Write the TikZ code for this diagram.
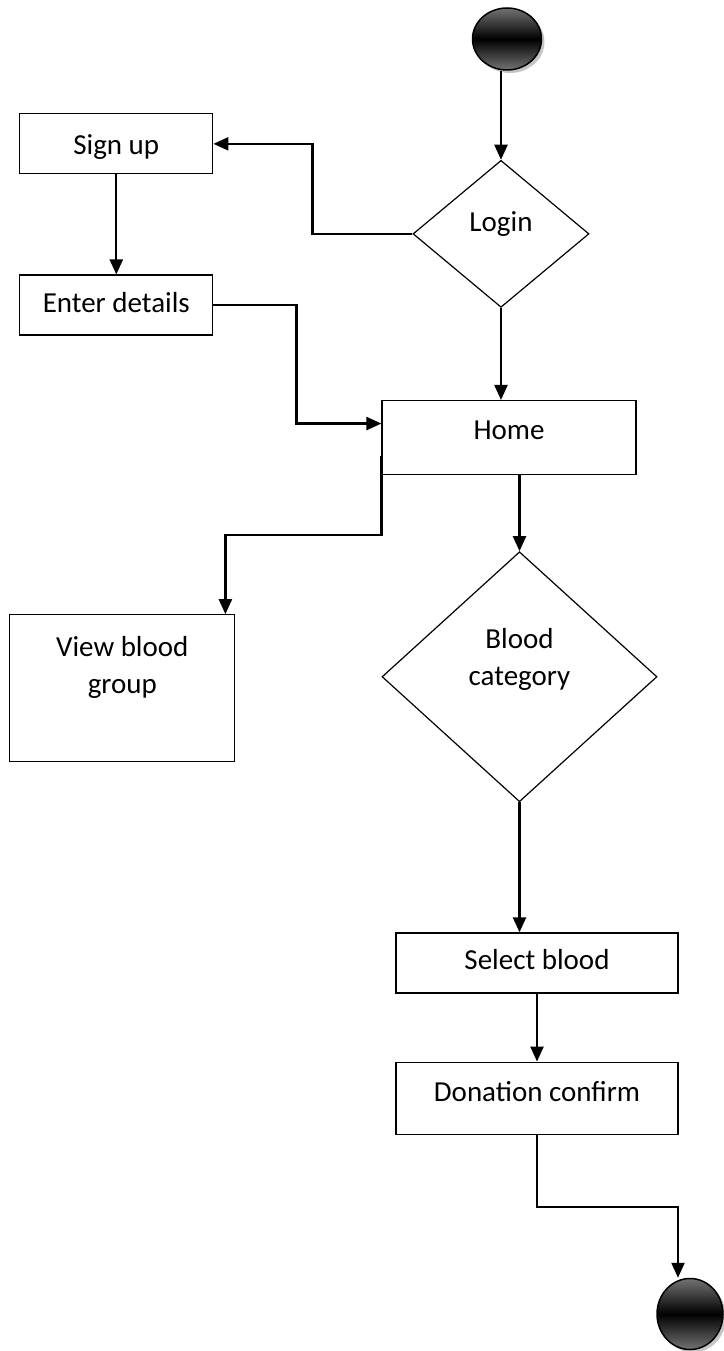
\documentclass[tikz,border=0pt]{standalone}
\usepackage{fontspec}
\setmainfont{Carlito}
\usepackage{tikz}
\usetikzlibrary{shapes.geometric, arrows.meta, positioning, shadows}

\begin{document}
\begin{tikzpicture}[x=1pt, y=-1pt,
    action/.style={rectangle, draw, line width=1.2pt, inner sep=0pt, text height=20pt, text depth=6pt, font=\fontsize{29}{37}\selectfont, align=center},
    decision/.style={diamond, draw, line width=1.2pt, inner sep=0pt, text height=20pt, font=\fontsize{29}{37}\selectfont, align=center},
    terminal/.style={ellipse, draw, line width=1.5pt, inner sep=0pt, top color=black!55, bottom color=black!55, middle color=black, drop shadow={shadow xshift=3pt, shadow yshift=-3pt, opacity=0.45}},
    flow/.style={-{Triangle[length=15pt, width=13pt]}, line width=2.3pt}]

    \useasboundingbox (0,0) rectangle (723,1351);

    \node (start) [terminal, minimum width=69pt, minimum height=62pt] at (507,39) {};
    \node (login) [decision, minimum width=176pt, minimum height=147pt, text depth=24pt, below=89pt of start, xshift=-6pt] {Login};
    \node (signup) [action, minimum width=193pt, minimum height=60pt, text height=28pt, left=199pt of login, yshift=90pt] {Sign up};
    \node (details) [action, minimum width=193pt, minimum height=60pt, below=100pt of signup] {Enter details};
    \node (home) [action, minimum width=254pt, minimum height=74pt, text depth=16pt, below=92pt of login, xshift=8pt] {Home};
    \node (view) [action, minimum width=225pt, minimum height=147pt, text depth=9pt, below left=139pt and 146pt of home] {View blood\\group};
    \node (cat) [decision, aspect=1.1, minimum width=275pt, minimum height=250pt, text depth=2pt, below=76pt of home, xshift=10.5pt] {Blood\\category};
    \node (select) [action, minimum width=282pt, minimum height=60pt, below=130pt of cat, xshift=17.5pt] {Select blood};
    \node (donation) [action, minimum width=282pt, minimum height=72pt, text depth=14pt, below=68pt of select] {Donation confirm};
    \node (end) [terminal, minimum width=66pt, minimum height=71pt, below=143pt of donation, xshift=153pt] {};

    \draw[flow] (login.north |- start.south) -- (login.north);
    \draw[flow] (login.west) -- ++(-100,0) |- (signup.east);
    \draw[flow] (signup) -- (details);
    \draw[flow] (details.east) -- ++(83,0) |- ([yshift=14pt]home.west);
    \draw[flow] (login.south) -- (login.south |- home.north);
    \draw[flow] ([yshift=19pt]home.south west) -- ++(0,79) -| ([xshift=-10pt]view.north east);
    \draw[flow] (cat.north |- home.south) -- (cat.north);
    \draw[flow] (cat.south) -- (cat.south |- select.north);
    \draw[flow] (select) -- (donation);
    \draw[flow] (donation.south) -- ++(0,72) -| ([xshift=-12pt]end.north);

\end{tikzpicture}
\end{document}
